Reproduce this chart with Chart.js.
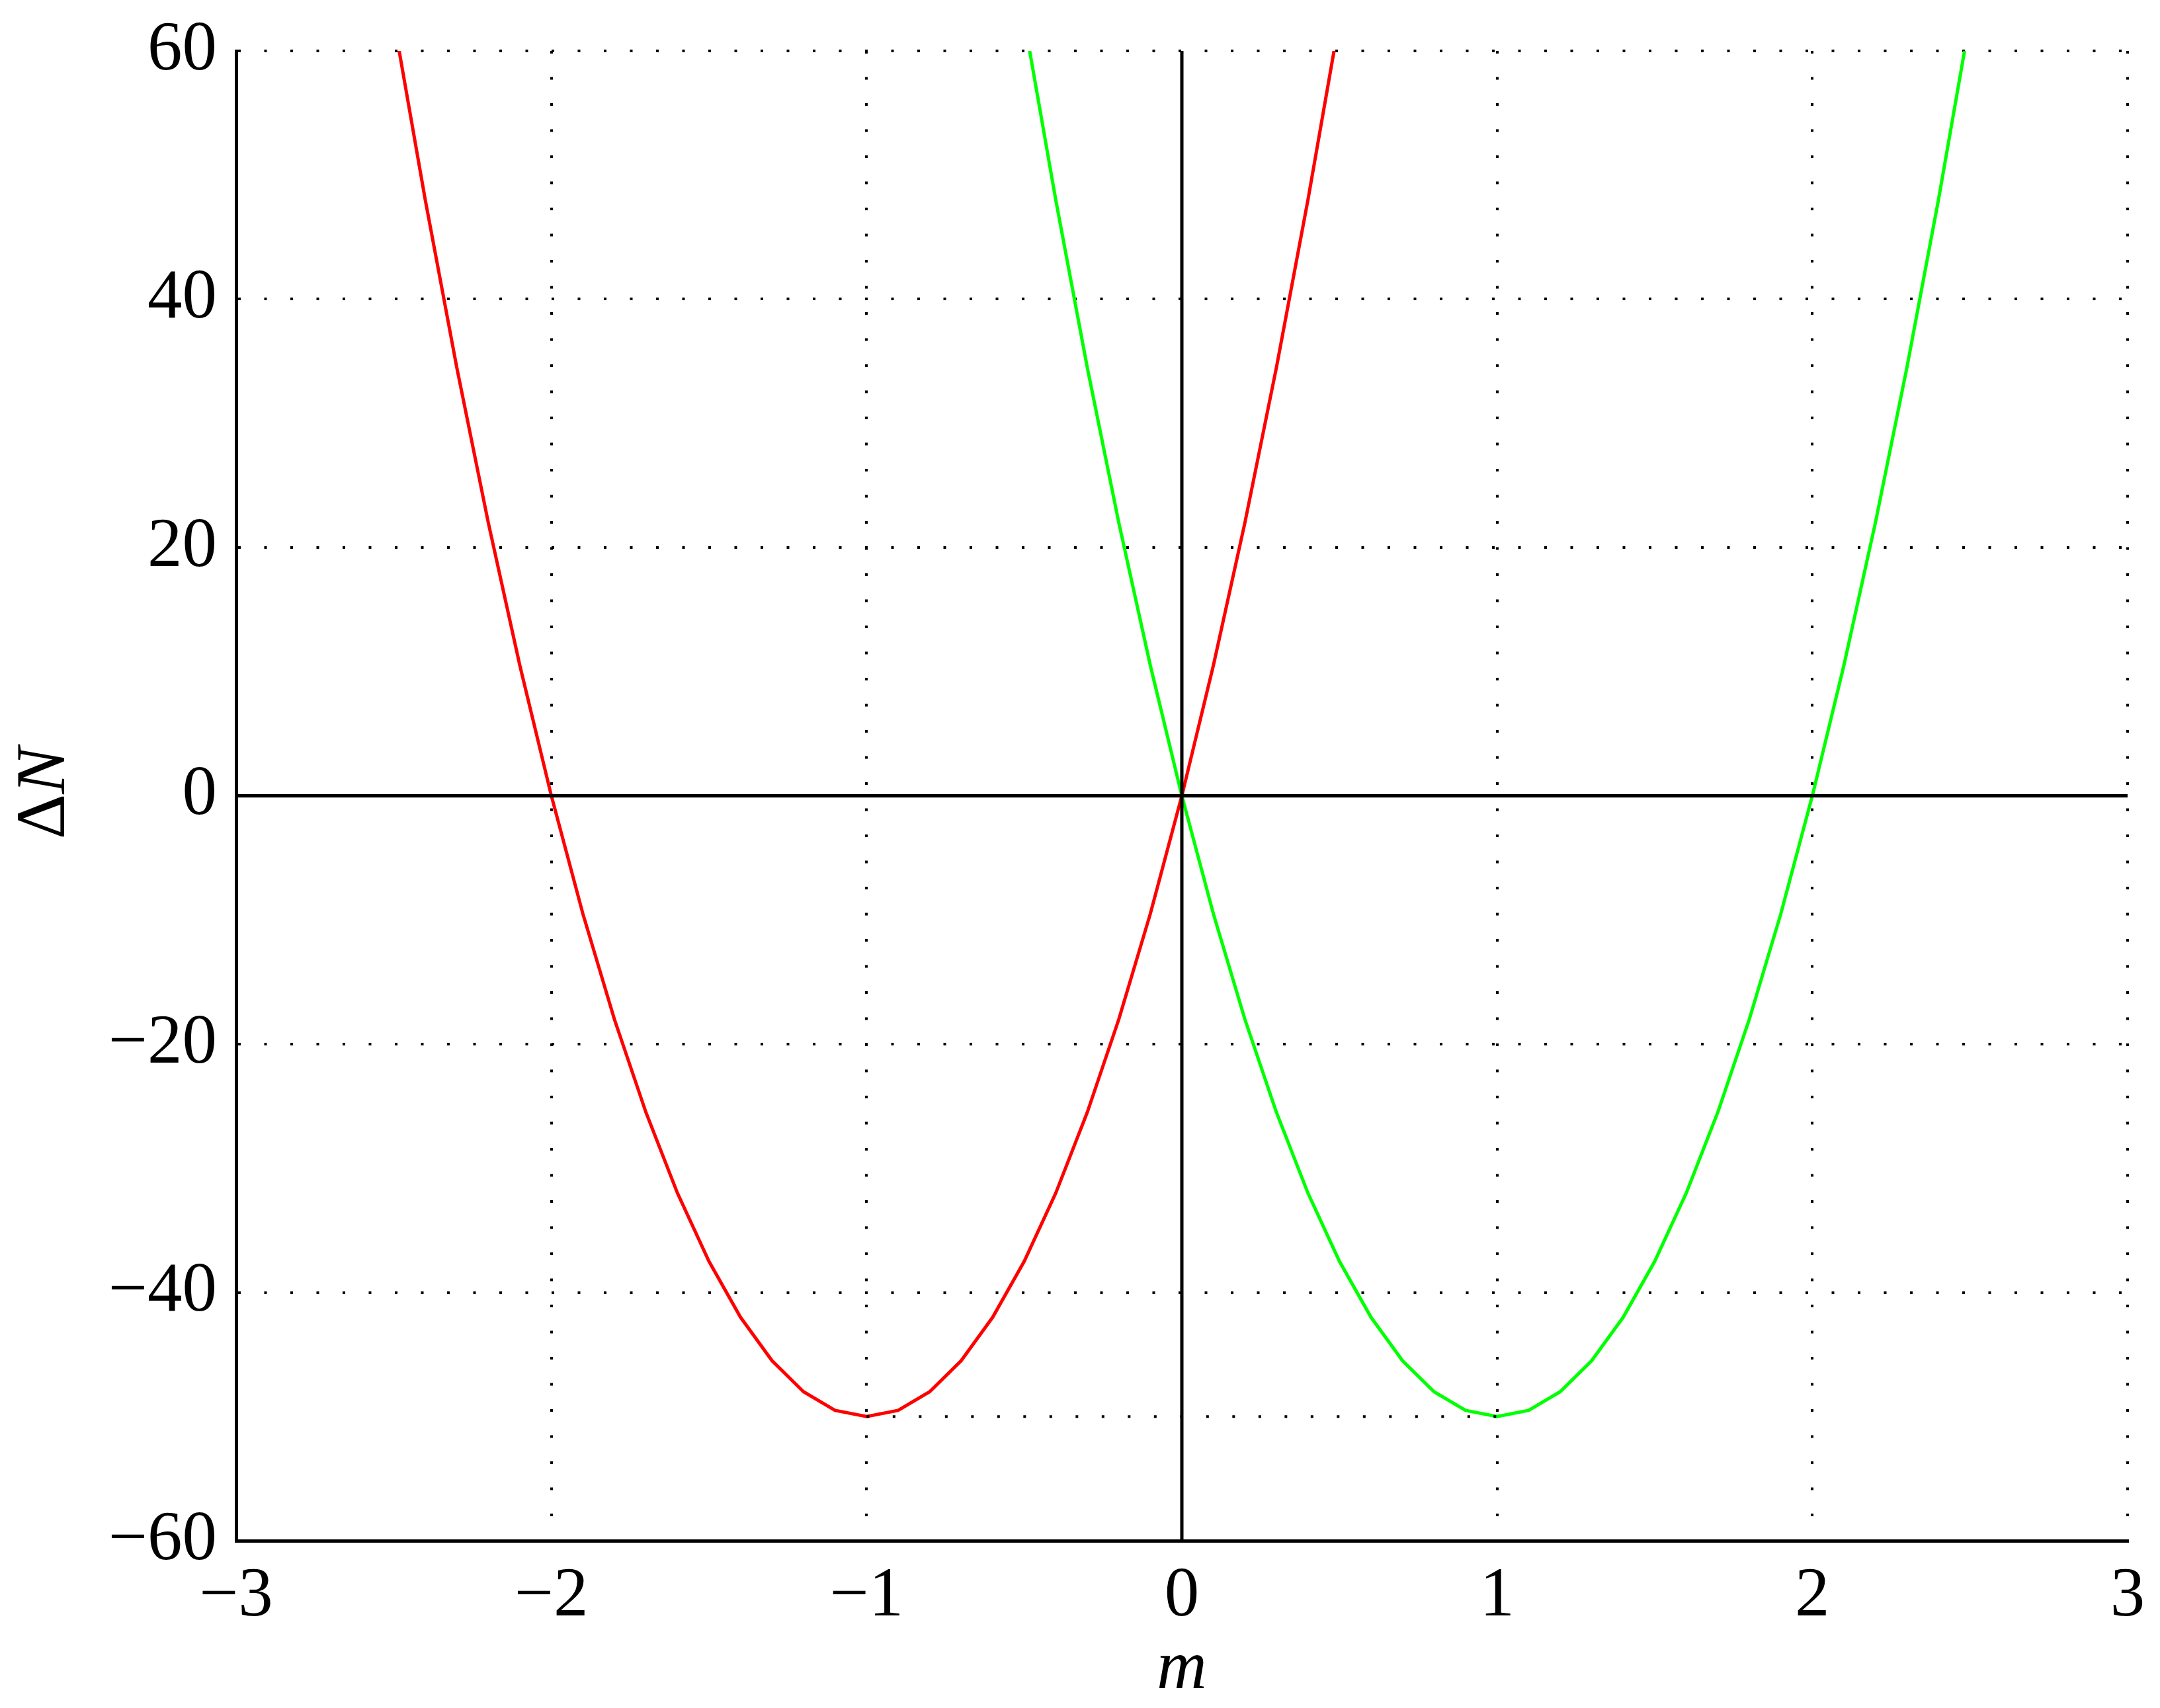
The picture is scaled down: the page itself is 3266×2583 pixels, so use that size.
<!DOCTYPE html>
<html>
<head>
<meta charset="utf-8">
<title>ΔN vs m</title>
<script src="https://cdn.jsdelivr.net/npm/chart.js@4.4.1/dist/chart.umd.min.js"></script>
<style>
  html, body { margin: 0; padding: 0; background: #fff; }
  canvas { display: block; }
</style>
</head>
<body>
<canvas id="deltaChart" width="3266" height="2583"></canvas>
<script>
const redM = [-2.5, -2.4, -2.3, -2.2, -2.1, -2.0, -1.9, -1.8, -1.7, -1.6, -1.5, -1.4, -1.3, -1.2, -1.1, -1.0,
  -0.9, -0.8, -0.7, -0.6, -0.5, -0.4, -0.3, -0.2, -0.1, 0.0, 0.1, 0.2, 0.3, 0.4, 0.5];
const redN = [62.5, 48, 34.5, 22, 10.5, 0, -9.5, -18, -25.5, -32, -37.5, -42, -45.5, -48, -49.5, -50,
  -49.5, -48, -45.5, -42, -37.5, -32, -25.5, -18, -9.5, 0, 10.5, 22, 34.5, 48, 62.5];
const greenM = [-0.5, -0.4, -0.3, -0.2, -0.1, 0.0, 0.1, 0.2, 0.3, 0.4, 0.5, 0.6, 0.7, 0.8, 0.9, 1.0,
  1.1, 1.2, 1.3, 1.4, 1.5, 1.6, 1.7, 1.8, 1.9, 2.0, 2.1, 2.2, 2.3, 2.4, 2.5];
const greenN = [62.5, 48, 34.5, 22, 10.5, 0, -9.5, -18, -25.5, -32, -37.5, -42, -45.5, -48, -49.5, -50,
  -49.5, -48, -45.5, -42, -37.5, -32, -25.5, -18, -9.5, 0, 10.5, 22, 34.5, 48, 62.5];
// dotted line joining the two minima
const minM = [-1, 1];
const minN = [-50, -50];

const xTicks = [-3, -2, -1, 0, 1, 2, 3];
const yTicks = [-60, -40, -20, 0, 20, 40, 60];
const xTitle = 'm';
const yTitle = ['Δ', 'N'];

const FONT = '"Liberation Serif", "DejaVu Serif", serif';
const DOTS = [4, 35.5];

function pts(xs, ys) {
  return xs.map((x, i) => ({ x: x, y: ys[i] }));
}

function minus(v) {
  return String(v).replace('-', '\u2212');
}

// zero axes drawn over the curves, plus the ΔN label (upright Δ, italic N)
const extras = {
  id: 'extras',
  afterDatasetsDraw(chart) {
    const { ctx, chartArea, scales } = chart;
    const x0 = scales.x.getPixelForValue(0);
    const y0 = scales.y.getPixelForValue(0);
    ctx.save();
    ctx.strokeStyle = '#000';
    ctx.lineWidth = 5;
    ctx.beginPath();
    ctx.moveTo(x0, chartArea.top);
    ctx.lineTo(x0, chartArea.bottom);
    ctx.moveTo(chartArea.left, y0);
    ctx.lineTo(chartArea.right, y0);
    ctx.stroke();
    ctx.restore();
  },
  afterDraw(chart) {
    const { ctx, chartArea } = chart;
    const fUp = '106px ' + FONT;
    const fIt = 'italic 106px ' + FONT;
    ctx.save();
    ctx.fillStyle = '#000';
    ctx.textBaseline = 'alphabetic';
    ctx.font = fUp;
    const w1 = ctx.measureText(yTitle[0]).width;
    ctx.font = fIt;
    const w2 = ctx.measureText(yTitle[1]).width;
    ctx.translate(97, (chartArea.top + chartArea.bottom) / 2 - 4);
    ctx.rotate(-Math.PI / 2);
    const start = -(w1 + w2) / 2;
    ctx.font = fUp;
    ctx.fillText(yTitle[0], start, 0);
    ctx.font = fIt;
    ctx.fillText(yTitle[1], start + w1, 0);
    ctx.restore();
  }
};

const ctx = document.getElementById('deltaChart');
new Chart(ctx, {
  type: 'line',
  data: {
    datasets: [
      {
        data: pts(minM, minN),
        borderColor: '#000',
        borderWidth: 4,
        borderDash: DOTS,
        pointRadius: 0,
        tension: 0
      },
      {
        data: pts(redM, redN),
        borderColor: '#ff0000',
        borderWidth: 5,
        pointRadius: 0,
        tension: 0
      },
      {
        data: pts(greenM, greenN),
        borderColor: '#00ff00',
        borderWidth: 5,
        pointRadius: 0,
        tension: 0
      }
    ]
  },
  options: {
    responsive: false,
    animation: false,
    devicePixelRatio: 1,
    layout: { padding: { top: 77, right: 49, left: 0, bottom: 0 } },
    plugins: { legend: { display: false }, tooltip: { enabled: false } },
    scales: {
      x: {
        type: 'linear',
        min: xTicks[0],
        max: xTicks[xTicks.length - 1],
        afterBuildTicks: s => { s.ticks = xTicks.map(v => ({ value: v })); },
        afterFit: s => { s.height = 253; },
        ticks: {
          padding: 22,
          color: '#000',
          font: { family: FONT, size: 105 },
          maxRotation: 0,
          callback: v => minus(v)
        },
        grid: { color: '#000', lineWidth: 4, drawTicks: false },
        border: { display: true, color: '#000', width: 5, dash: DOTS },
        title: {
          display: true,
          text: xTitle,
          color: '#000',
          font: { family: FONT, size: 105, style: 'italic', lineHeight: 1 },
          padding: { top: 0, bottom: 5 }
        }
      },
      y: {
        min: yTicks[0],
        max: yTicks[yTicks.length - 1],
        afterBuildTicks: s => { s.ticks = yTicks.map(v => ({ value: v })); },
        afterFit: s => { s.width = 357; },
        ticks: {
          padding: 29,
          color: '#000',
          font: { family: FONT, size: 105, lineHeight: 0.9 },
          callback: v => minus(v)
        },
        grid: { color: '#000', lineWidth: 4, drawTicks: false },
        border: { display: true, color: '#000', width: 5, dash: DOTS }
      }
    }
  },
  plugins: [extras]
});
</script>
</body>
</html>
